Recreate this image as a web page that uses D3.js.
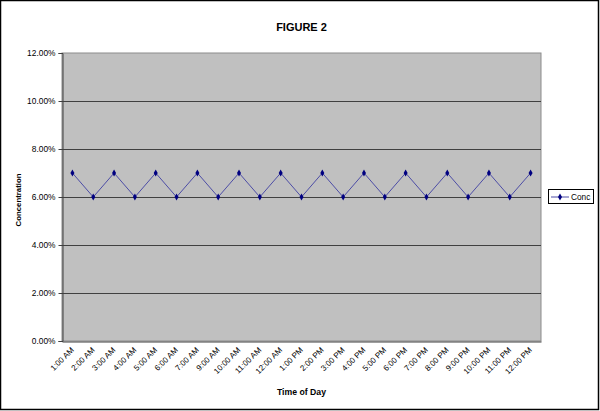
<!DOCTYPE html>
<html><head><meta charset="utf-8">
<script src="https://cdn.jsdelivr.net/npm/d3@7"></script>
<style>body{margin:0;background:#fff}svg{display:block;font-family:"Liberation Sans",Arial,sans-serif}</style>
</head><body><svg id="c" width="600" height="411"></svg>
<script>
const categories = ["1:00 AM","2:00 AM","3:00 AM","4:00 AM","5:00 AM","6:00 AM","7:00 AM","9:00 AM","10:00 AM","11:00 AM","12:00 AM","1:00 PM","2:00 PM","3:00 PM","4:00 PM","5:00 PM","6:00 PM","7:00 PM","8:00 PM","9:00 PM","10:00 PM","11:00 PM","12:00 PM"];
const concValues = [0.07,0.06,0.07,0.06,0.07,0.06,0.07,0.06,0.07,0.06,0.07,0.06,0.07,0.06,0.07,0.06,0.07,0.06,0.07,0.06,0.07,0.06,0.07];
const yTicks = [0,0.02,0.04,0.06,0.08,0.10,0.12];
const seriesName = "Conc";

const svg = d3.select("#c");
const L = 62, R = 541, T = 53, B = 341;
svg.append("rect").attr("x",0.5).attr("y",0.5).attr("width",598).attr("height",409).attr("fill","#fff").attr("stroke","#000").attr("stroke-width",1.5);

const x = d3.scaleBand().domain(categories).range([L,R]);
const y = d3.scaleLinear().domain([0,0.12]).range([B,T]);

svg.append("rect").attr("x",L).attr("y",T).attr("width",R-L).attr("height",B-T).attr("fill","#c0c0c0").attr("stroke","#8c8c8c").attr("stroke-width",1);

// gridlines
svg.append("g").selectAll("line").data(yTicks.filter(d=>d>0 && d<0.12)).join("line")
  .attr("x1",L).attr("x2",R).attr("y1",d=>Math.round(y(d))+0.5).attr("y2",d=>Math.round(y(d))+0.5)
  .attr("stroke","#404040").attr("stroke-width",1);

// y axis
const ya = svg.append("g").attr("transform",`translate(${L+0.5},0)`)
  .call(d3.axisLeft(y).tickValues(yTicks).tickFormat(d3.format(".2%")).tickSize(4).tickPadding(3));
ya.select(".domain").attr("stroke","#404040");
ya.selectAll(".tick line").attr("stroke","#404040");
ya.selectAll("text").attr("font-size",8.4).attr("fill","#000").attr("font-family","Liberation Sans, Arial, sans-serif");

// x axis
const xa = svg.append("g").attr("transform",`translate(0,${B+0.5})`)
  .call(d3.axisBottom(x).tickSize(0).tickSizeOuter(0));
xa.select(".domain").attr("stroke","#404040");
xa.selectAll(".tick line").remove();
xa.selectAll("text").attr("font-size",8).attr("fill","#000").attr("font-family","Liberation Sans, Arial, sans-serif")
  .attr("text-anchor","end").attr("dy",0).attr("y",0)
  .attr("transform","translate(2,9) rotate(-45)");

// line
const line = d3.line().x((d,i)=>x(categories[i])+x.bandwidth()/2).y(d=>y(d));
svg.append("path").datum(concValues).attr("d",line).attr("fill","none").attr("stroke","#4d4da6").attr("stroke-width",1);
const diamond = d3.symbol().type(d3.symbolDiamond).size(14);
svg.append("g").selectAll("path").data(concValues).join("path")
  .attr("d",diamond).attr("transform",(d,i)=>`translate(${x(categories[i])+x.bandwidth()/2},${y(d)})`)
  .attr("fill","#000080");

// titles
svg.append("text").attr("x",(L+R)/2).attr("y",31).attr("text-anchor","middle").attr("font-size",11).attr("font-weight","bold").text("FIGURE 2");
svg.append("text").attr("x",(L+R)/2).attr("y",395).attr("text-anchor","middle").attr("font-size",8.7).attr("font-weight","bold").text("Time of Day");
svg.append("text").attr("transform",`translate(21,${(T+B)/2+3}) rotate(-90)`).attr("text-anchor","middle").attr("font-size",7.8).attr("font-weight","bold").text("Concentration");

// legend
const lg = svg.append("g");
lg.append("rect").attr("x",548.5).attr("y",189.5).attr("width",45).attr("height",14).attr("fill","#fff").attr("stroke","#000");
lg.append("line").attr("x1",551).attr("x2",569).attr("y1",197).attr("y2",197).attr("stroke","#4d4da6");
lg.append("path").attr("d",diamond).attr("transform","translate(560,197)").attr("fill","#000080");
lg.append("text").attr("x",571).attr("y",200).attr("font-size",8.3).text(seriesName);
</script></body></html>
